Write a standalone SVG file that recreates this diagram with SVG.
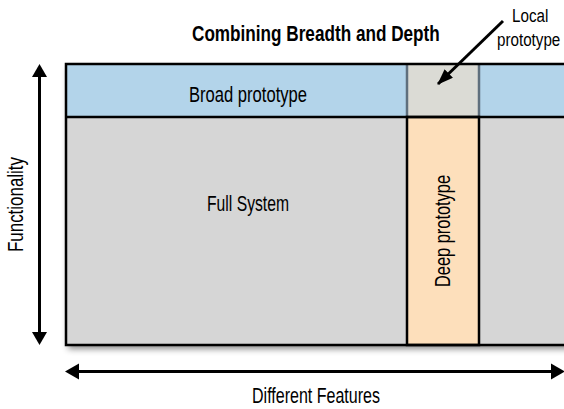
<svg xmlns="http://www.w3.org/2000/svg" width="564" height="409" viewBox="0 0 564 409">
<style>
.t{font-family:"Liberation Sans",Arial,sans-serif;font-size:22px;fill:#000}
.s{font-size:19px}
.b{font-weight:bold}
.ax{stroke:#000;stroke-width:3;fill:none}
</style>
<defs>
<marker id="ah2" markerUnits="userSpaceOnUse" markerWidth="16" markerHeight="12" viewBox="0 0 16 12" refX="15" refY="6" orient="auto">
<path d="M0,0 L16,6 L0,12 Z" fill="#000"/>
</marker>
<filter id="sh" x="-5%" y="-5%" width="115%" height="115%">
<feDropShadow dx="2" dy="4" stdDeviation="3" flood-color="#000" flood-opacity="0.45"/>
</filter>
</defs>
<rect x="66" y="64" width="510" height="281" fill="#d6d6d6" filter="url(#sh)"/>
<g id="broad">
<rect x="66" y="64" width="510" height="53" fill="#b3d4ea"/>
<text class="t" x="189" y="102" textLength="118" lengthAdjust="spacingAndGlyphs">Broad prototype</text>
</g>
<g id="local">
<rect x="407" y="64" width="72" height="53" fill="#dbdbd5"/>
<line x1="407" y1="64" x2="407" y2="117" stroke="#5f6f7d" stroke-width="2.5"/>
<line x1="479" y1="64" x2="479" y2="117" stroke="#5f6f7d" stroke-width="2.5"/>
</g>
<g id="full">
<rect x="66" y="117" width="510" height="228" fill="#d6d6d6"/>
<text class="t" x="207" y="211" textLength="82" lengthAdjust="spacingAndGlyphs">Full System</text>
</g>
<g id="deep">
<rect x="407" y="117" width="72" height="228" fill="#fddfbb" stroke="#000" stroke-width="2.5"/>
<text class="t" transform="translate(450,231) rotate(-90)" x="0" y="0" text-anchor="middle" textLength="112" lengthAdjust="spacingAndGlyphs">Deep prototype</text>
</g>
<line x1="66" y1="117" x2="576" y2="117" stroke="#000" stroke-width="2.5"/>
<rect x="66" y="64" width="510" height="281" fill="none" stroke="#000" stroke-width="2.5"/>
<g id="title">
<text class="t b" transform="translate(192,41) scale(0.78,1)" x="0" y="0" font-size="23">Combining Breadth and Depth</text>
</g>
<g id="local-label">
<text class="t s" transform="translate(512,22) scale(0.8,1)" x="0" y="0">Local</text>
<text class="t s" transform="translate(497,46) scale(0.8,1)" x="0" y="0">prototype</text>
</g>
<g id="connectors">
<line class="ax" x1="39.5" y1="76" x2="39.5" y2="333"/>
<path d="M39.5,64 L47,77 L32,77 Z" fill="#000"/>
<path d="M39.5,345 L47,332 L32,332 Z" fill="#000"/>
<line class="ax" x1="78" y1="371.5" x2="552" y2="371.5"/>
<path d="M65,371.5 L79,363.5 L79,379.5 Z" fill="#000"/>
<path d="M565,371.5 L551,363.5 L551,379.5 Z" fill="#000"/>
<line class="ax" x1="503" y1="21" x2="438" y2="84" marker-end="url(#ah2)"/>
</g>
<g id="axis-labels">
<text class="t" transform="translate(23,204.5) rotate(-90)" x="0" y="0" text-anchor="middle" textLength="95" lengthAdjust="spacingAndGlyphs">Functionality</text>
<text class="t" x="252" y="403" textLength="128" lengthAdjust="spacingAndGlyphs">Different Features</text>
</g>
</svg>
